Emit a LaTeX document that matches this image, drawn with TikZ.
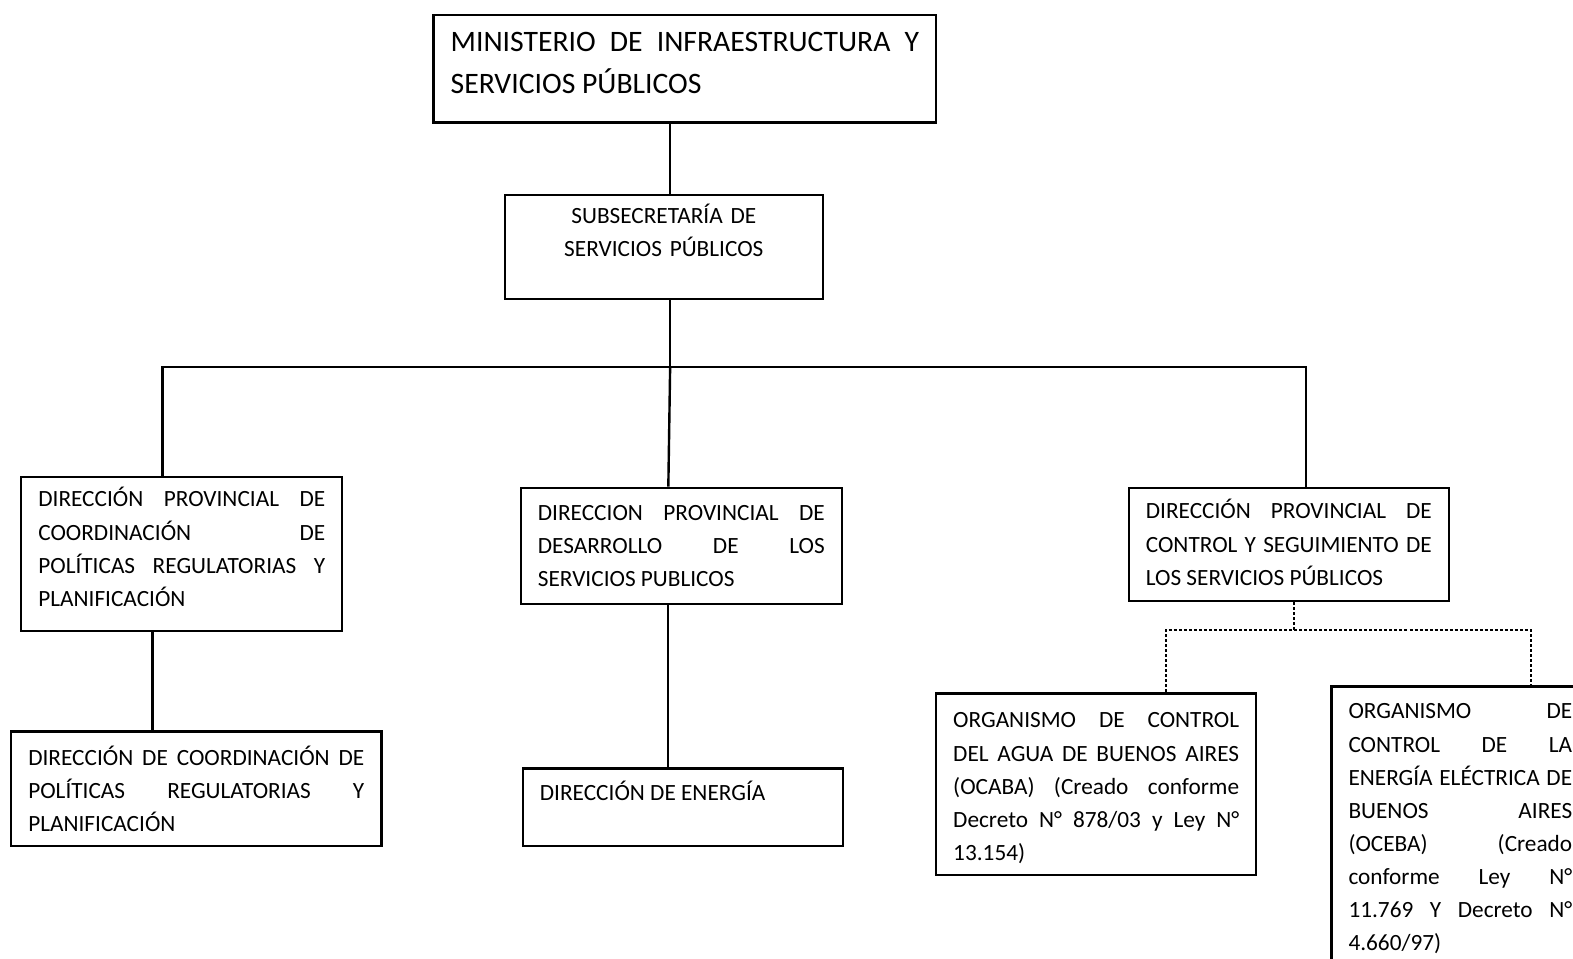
\documentclass[tikz,border=0pt]{standalone}
\usepackage{fontspec}
\setmainfont{Carlito}

\tikzset{
    unidad/.style={draw, line width=1.2pt, anchor=north west, inner xsep=8.5pt, inner ysep=0pt, align=justify, font=\fontsize{11.6}{16.5}\selectfont},
    enlace/.style={line width=1.2pt},
    dependencia/.style={line width=1.2pt, dash pattern=on 1.5pt off 1pt}
}

\begin{document}
\begin{tikzpicture}[x=0.5pt, y=-0.5pt]
    \useasboundingbox (0,0) rectangle (1568,955);

    % Ministerio y subsecretaria
    \node[unidad, text width=233.5pt, minimum height=53.5pt, font=\fontsize{14.8}{21}\selectfont] (min) at (431,14) {MINISTERIO DE INFRAESTRUCTURA Y\linebreak SERVICIOS PÚBLICOS\par\vspace{6pt}\kern0pt};
    \node[unidad, text width=141.5pt, minimum height=52pt, align=center] (sub) at (502,193) {SUBSECRETARÍA DE\\SERVICIOS PÚBLICOS\\\mbox{}};

    % Direcciones provinciales
    \node[unidad, text width=143pt, minimum height=77pt] (dpcpr) at (20,474) {DIRECCIÓN PROVINCIAL DE\linebreak COORDINACIÓN DE\linebreak POLÍTICAS REGULATORIAS Y\linebreak PLANIFICACIÓN\par\vspace{7pt}\kern0pt};
    \node[unidad, text width=143pt, minimum height=58pt] (dpdsp) at (518,485) {DIRECCION PROVINCIAL DE\linebreak DESARROLLO DE LOS\linebreak SERVICIOS PUBLICOS};
    \node[unidad, text width=142.5pt, minimum height=56.5pt] (dpcsp) at (1124,485) {DIRECCIÓN PROVINCIAL DE\linebreak CONTROL Y SEGUIMIENTO DE\linebreak LOS SERVICIOS PÚBLICOS\par\vspace{2pt}\kern0pt};

    % Direcciones y organismos
    \node[unidad, text width=167.5pt, minimum height=57pt] (dcpr) at (10,728) {DIRECCIÓN DE COORDINACIÓN DE\linebreak POLÍTICAS REGULATORIAS Y\linebreak PLANIFICACIÓN};
    \node[unidad, text width=142.5pt, minimum height=38.5pt] (de) at (520,765) {DIRECCIÓN DE ENERGÍA\par\mbox{}};
    \node[unidad, text width=142.5pt, minimum height=90.5pt] (ocaba) at (932,690) {ORGANISMO DE CONTROL\linebreak DEL AGUA DE BUENOS AIRES\linebreak (OCABA) (Creado conforme\linebreak Decreto N° 878/03 y Ley N°\linebreak 13.154)\par\vspace{-4pt}\kern0pt};
    \node[unidad, text width=111.5pt, minimum height=142pt] (oceba) at (1326,683) {ORGANISMO DE\linebreak CONTROL DE LA\linebreak ENERGÍA ELÉCTRICA DE\linebreak BUENOS AIRES\linebreak (OCEBA) (Creado\linebreak conforme Ley N°\linebreak 11.769 Y Decreto N°\linebreak 4.660/97)};

    % Lineas
    \coordinate (bus) at (668,366);
    \coordinate (busL) at (162,366);
    \coordinate (busR) at (1302,366);
    \coordinate (eje1) at (152,0);
    \coordinate (eje2) at (666,0);
    \coordinate (eje3) at (1290,628);
    \coordinate (ramaL) at (1162,628);
    \coordinate (ramaR) at (1526,628);

    \draw[enlace] (bus |- min.south) -- (bus |- sub.north);
    \draw[enlace] (bus |- sub.south) -- (bus);
    \draw[enlace] (busL |- dpcpr.north) -- (busL) -- (busR) -- (busR |- dpcsp.north);
    \draw[enlace] (bus) -- ([xshift=-6.5pt]dpdsp.north);
    \draw[enlace] (eje1 |- dpcpr.south) -- (eje1 |- dcpr.north);
    \draw[enlace] (eje2 |- dpdsp.south) -- (eje2 |- de.north);
    \draw[dependencia] (eje3 |- dpcsp.south) -- (eje3);
    \draw[dependencia] (ramaL |- ocaba.north) -- (ramaL) -- (ramaR) -- (ramaR |- oceba.north);
\end{tikzpicture}
\end{document}
